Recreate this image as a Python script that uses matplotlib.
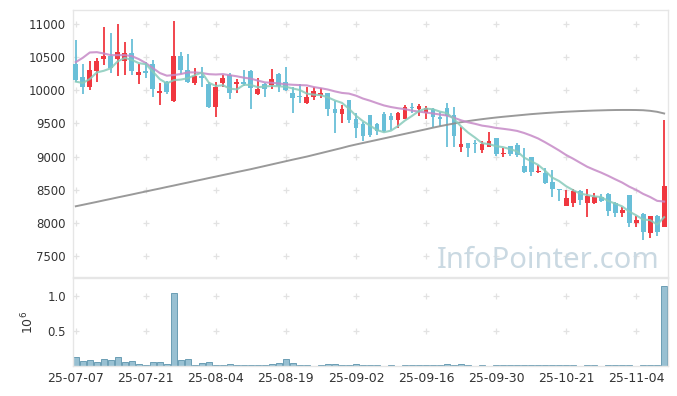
import numpy as np
import matplotlib
matplotlib.use("Agg")
import matplotlib.pyplot as plt

plt.rcParams["font.family"] = ["DejaVu Sans"]

# --- data (daily candles, trading-day index) ---
opens = [10400, 10200, 10050, 10290, 10470, 10520, 10470, 10440, 10560, 10230,
         10290, 10400, 9960, 10120, 9840, 10520, 10300, 10110, 10210, 10095,
         9745, 10110, 10230, 10095, 10125, 10290, 9940, 10095, 10080, 10245,
         10125, 9960, 9905, 9810, 9900, 9930, 9960, 9720, 9640, 9855,
         9565, 9490, 9625, 9490, 9640, 9610, 9550, 9565, 9745, 9720,
         9655, 9720, 9600, 9730, 9625, 9145, 9205, 9205, 9100, 9145,
         9280, 9040, 9160, 9175, 8855, 8990, 8765, 8750, 8615, 8512,
         8255, 8300, 8480, 8300, 8300, 8390, 8435, 8300, 8150, 8420,
         8000, 8135, 7845, 8105, 7935]
highs = [10760, 10400, 10440, 10490, 10950, 10860, 11000, 10730, 10770, 10400,
         10420, 10460, 10110, 10140, 11040, 10580, 10550, 10335, 10350, 10130,
         10125, 10230, 10260, 10170, 10300, 10300, 10185, 10110, 10320, 10260,
         10350, 10050, 10095, 10050, 10050, 10030, 9965, 9840, 9780, 9860,
         9655, 9520, 9630, 9505, 9670, 9655, 9670, 9780, 9810, 9795,
         9765, 9730, 9670, 9810, 9745, 9445, 9210, 9250, 9235, 9370,
         9285, 9130, 9165, 9200, 9130, 8995, 8870, 8825, 8795, 8515,
         8495, 8510, 8495, 8510, 8450, 8440, 8450, 8320, 8240, 8425,
         8105, 8150, 8110, 8120, 9550]
lows = [10125, 9940, 10000, 10125, 10380, 10260, 10215, 10230, 10230, 10095,
        10180, 9900, 9780, 9950, 9830, 10250, 10110, 10080, 10050, 9740,
        9600, 10050, 9870, 9960, 10060, 9720, 9930, 9900, 10015, 9980,
        9995, 9660, 9810, 9790, 9850, 9880, 9610, 9355, 9500, 9505,
        9280, 9235, 9290, 9325, 9370, 9400, 9430, 9560, 9655, 9610,
        9560, 9445, 9460, 9145, 9145, 9070, 9000, 9050, 9050, 9140,
        9010, 8990, 9010, 9000, 8750, 8705, 8750, 8590, 8390, 8330,
        8250, 8240, 8270, 8090, 8285, 8320, 8100, 8090, 8090, 7935,
        7935, 7740, 7770, 7800, 7930]
closes = [10150, 10050, 10310, 10440, 10520, 10340, 10580, 10560, 10290, 10275,
          10260, 10020, 9990, 9975, 10520, 10300, 10125, 10215, 10185, 9745,
          10050, 10185, 9960, 10125, 10095, 10035, 10015, 10015, 10170, 10065,
          10000, 9885, 9895, 9900, 9990, 9960, 9720, 9660, 9720, 9550,
          9430, 9310, 9325, 9385, 9385, 9550, 9655, 9745, 9730, 9760,
          9730, 9600, 9570, 9610, 9310, 9190, 9130, 9190, 9190, 9235,
          9040, 9055, 9040, 9025, 8765, 8765, 8780, 8600, 8510, 8500,
          8375, 8480, 8345, 8405, 8390, 8330, 8180, 8150, 8195, 8000,
          8045, 7860, 8105, 7860, 8555]
ma5 = [10130, 10110, 10170, 10270, 10294, 10332, 10438, 10488, 10458, 10409,
       10393, 10281, 10167, 10104, 10153, 10161, 10182, 10227, 10269, 10114,
       10064, 10076, 10025, 10013, 10083, 10080, 10046, 10057, 10066, 10060,
       10053, 10027, 10003, 9949, 9934, 9926, 9893, 9846, 9810, 9722,
       9616, 9534, 9467, 9400, 9367, 9391, 9460, 9544, 9613, 9688,
       9724, 9713, 9678, 9654, 9564, 9456, 9362, 9286, 9202, 9187,
       9157, 9142, 9112, 9079, 8985, 8930, 8875, 8787, 8684, 8631,
       8553, 8493, 8442, 8421, 8399, 8390, 8330, 8291, 8249, 8171,
       8114, 8050, 8041, 7974, 8085]
ma20 = [10425, 10490, 10570, 10575, 10555, 10530, 10530, 10530, 10515, 10470,
        10410, 10335, 10260, 10220, 10230, 10245, 10270, 10270, 10260, 10243,
        10238, 10244, 10227, 10211, 10190, 10175, 10146, 10119, 10113, 10103,
        10090, 10083, 10078, 10074, 10048, 10031, 10011, 9983, 9960, 9950,
        9919, 9875, 9843, 9806, 9771, 9747, 9729, 9715, 9693, 9678,
        9664, 9650, 9634, 9619, 9585, 9547, 9517, 9494, 9467, 9452,
        9432, 9419, 9405, 9387, 9356, 9317, 9273, 9216, 9155, 9092,
        9024, 8968, 8907, 8847, 8801, 8758, 8710, 8658, 8608, 8547,
        8497, 8437, 8390, 8332, 8321]
ma_long = [8250, 8272, 8294, 8316, 8339, 8361, 8384, 8406, 8428, 8451,
           8473, 8496, 8518, 8541, 8563, 8586, 8608, 8631, 8653, 8676,
           8698, 8721, 8743, 8766, 8788, 8810, 8834, 8858, 8882, 8906,
           8930, 8954, 8977, 9000, 9026, 9052, 9078, 9104, 9130, 9158,
           9182, 9205, 9228, 9251, 9274, 9297, 9320, 9343, 9366, 9389,
           9412, 9436, 9458, 9479, 9499, 9518, 9535, 9550, 9564, 9577,
           9589, 9600, 9610, 9620, 9630, 9640, 9648, 9656, 9663, 9670,
           9676, 9681, 9686, 9690, 9694, 9697, 9700, 9702, 9703, 9703,
           9702, 9699, 9690, 9675, 9650]
volume = [0.132, 0.066, 0.080, 0.052, 0.094, 0.080, 0.132, 0.052, 0.066, 0.024,
          0.010, 0.052, 0.052, 0.024, 1.040, 0.080, 0.094, 0.010, 0.038, 0.052,
          0.010, 0.010, 0.024, 0.010, 0.010, 0.010, 0.010, 0.010, 0.024, 0.038,
          0.094, 0.038, 0.010, 0.008, 0.003, 0.010, 0.024, 0.024, 0.010, 0.010,
          0.024, 0.010, 0.010, 0.010, 0.003, 0.020, 0.003, 0.010, 0.010, 0.010,
          0.010, 0.010, 0.010, 0.033, 0.020, 0.033, 0.010, 0.003, 0.010, 0.003,
          0.010, 0.010, 0.010, 0.010, 0.020, 0.010, 0.010, 0.010, 0.010, 0.010,
          0.010, 0.010, 0.003, 0.010, 0.010, 0.003, 0.020, 0.010, 0.010, 0.020,
          0.003, 0.010, 0.010, 0.010, 1.140]
date_labels = ["25-07-07", "25-07-21", "25-08-04", "25-08-19", "25-09-02",
               "25-09-16", "25-09-30", "25-10-21", "25-11-04"]
price_ticks = [7500, 8000, 8500, 9000, 9500, 10000, 10500, 11000]
vol_ticks = [0.5, 1.0]

UP, DOWN = "#f0373f", "#69bfd8"
GRID = "#e2e2e2"
SPINE = "#e6e6e6"
TXT = "#333333"

fig = plt.figure(figsize=(6.77, 3.96), dpi=100)
ax = fig.add_axes([73 / 677, 1 - 277 / 396, 595 / 677, 267 / 396])
axv = fig.add_axes([73 / 677, 1 - 366 / 396, 595 / 677, 88 / 396], sharex=ax)

n = len(closes)
x = np.arange(n)
o = np.array(opens); c = np.array(closes)
h = np.array(highs); l = np.array(lows)
colors = np.where(c >= o, UP, DOWN)

# grid "+" markers at tick intersections
xt = np.arange(0, n, 10)
gx, gy = np.meshgrid(xt, price_ticks)
ax.plot(gx.ravel(), gy.ravel(), "+", color=GRID, ms=4.5, mew=0.9, zorder=0)
gx, gy = np.meshgrid(xt, vol_ticks)
axv.plot(gx.ravel(), gy.ravel(), "+", color=GRID, ms=4.5, mew=0.9, zorder=0)

ax.text(660, 396 - 268, "InfoPointer.com", transform=None, ha="right",
        va="baseline", fontsize=21, color="#cad9e2", family="Noto Sans",
        zorder=1)

# candles
ax.vlines(x, l, h, colors=colors, linewidth=1.3, zorder=2)
body = np.maximum(np.abs(c - o), 12)
ax.bar(x, body, bottom=np.minimum(o, c), width=0.7, color=colors,
       linewidth=0, zorder=3)

# moving averages
ax.plot(x, ma_long, color="#8f8f8f", lw=1.4, alpha=0.9, zorder=4)
ax.plot(x, ma20, color="#c68ac7", lw=1.5, alpha=0.85, zorder=4)
ax.plot(x, ma5, color="#88cbbb", lw=1.5, alpha=0.85, zorder=4)

ax.set_xlim(-0.4, n - 0.45)
ax.set_ylim(7183, 11211)
ax.set_yticks(price_ticks)
ax.set_yticklabels([str(v) for v in price_ticks])
ax.tick_params(axis="x", labelbottom=False, length=0)
ax.tick_params(axis="y", length=0, pad=5, labelsize=8.5, labelcolor=TXT)

# volume
axv.bar(x, volume, width=0.92, color="#98c0d2", edgecolor="#6a9db4",
        linewidth=0.7, zorder=2)
axv.set_ylim(0, 1.25)
axv.set_yticks(vol_ticks)
axv.set_yticklabels(["0.5", "1.0"])
axv.set_xticks(xt)
axv.set_xticklabels(date_labels)
axv.tick_params(axis="y", length=0, pad=5, labelsize=8.5, labelcolor=TXT)
axv.tick_params(axis="x", length=0, pad=4, labelsize=9, labelcolor=TXT)
axv.set_ylabel(r"$10^6$", fontsize=9, color=TXT, labelpad=8)

for a in (ax, axv):
    for s in a.spines.values():
        s.set_color(SPINE)
        s.set_linewidth(1.0)

fig.savefig("out.png", dpi=100)
